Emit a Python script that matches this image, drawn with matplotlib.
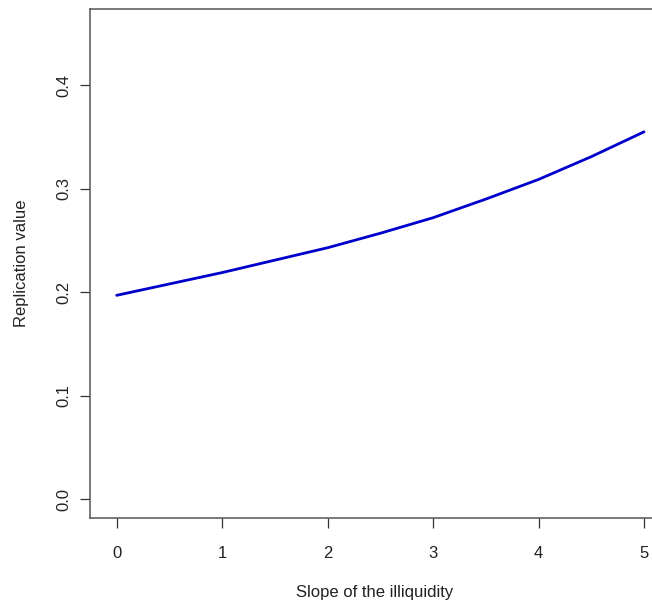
import matplotlib
matplotlib.use("Agg")
import matplotlib.pyplot as plt

slope = [0.0, 0.5, 1.0, 1.5, 2.0, 2.5, 3.0, 3.5, 4.0, 4.5, 5.0]
replication = [0.197, 0.208, 0.219, 0.231, 0.243, 0.257, 0.272, 0.290, 0.309, 0.331, 0.355]
xticks = [0, 1, 2, 3, 4, 5]
yticks = [0.0, 0.1, 0.2, 0.3, 0.4]

plt.rcParams['font.family'] = ['Liberation Sans', 'DejaVu Sans']

W, H = 652, 606
fig = plt.figure(figsize=(W / 100, H / 100), dpi=100)
left, right, top, bottom = 89.7, 671.0, 8.5, 518.0
ax = fig.add_axes([left / W, 1 - bottom / H, (right - left) / W, (bottom - top) / H])

ax.plot(slope, replication, color='#0000CC', lw=2.0, solid_capstyle='round')

ax.set_xlim(-0.256, 5.256)
ax.set_ylim(-0.0182, 0.4742)
ax.set_xticks(xticks)
ax.set_xticklabels([str(t) for t in xticks])
ax.set_yticks(yticks)
ax.set_yticklabels([f"{t:.1f}" for t in yticks], rotation=90, va='center')

for s in ax.spines.values():
    s.set_color('#555555')
    s.set_linewidth(1.1)
ax.tick_params(axis='both', length=7.2, width=0.9, color='#333333',
               labelsize=12, labelcolor='#222222')
ax.tick_params(axis='x', pad=13)
ax.tick_params(axis='y', pad=6)

ax.set_xlabel('Slope of the illiquidity', fontsize=12, color='#222222')
ax.xaxis.set_label_coords((375 - left) / (right - left), -(592 - bottom) / (bottom - top))
ax.xaxis.label.set_va('center')
ax.set_ylabel('Replication value', fontsize=12, color='#222222')
ax.yaxis.set_label_coords(-(left - 22) / (right - left), 0.5)
ax.yaxis.label.set_va('center')

fig.savefig('out.png', dpi=100)
